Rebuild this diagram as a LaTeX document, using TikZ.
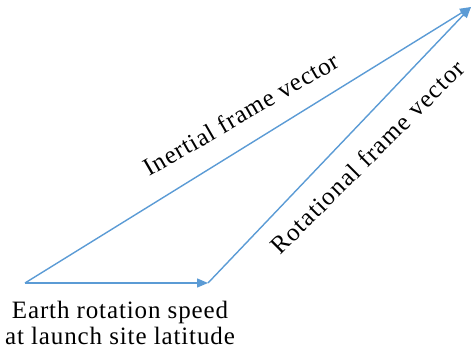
\documentclass[tikz,border=0pt]{standalone}
\usepackage{fontspec}
\setmainfont{Liberation Serif}
\usetikzlibrary{arrows.meta,positioning,calc}

\begin{document}
\begin{tikzpicture}[x=1pt,y=1pt,
    vec/.style={draw={rgb,255:red,91;green,155;blue,213},line width=1.4pt,
        -{Triangle[length=11pt,width=9pt]}},
    lbl/.style={font=\fontsize{25}{26}\selectfont\addfontfeature{LetterSpace=3.5},
        align=center,inner sep=0pt}]
    \useasboundingbox (0,0) rectangle (472,351);
    \coordinate (origin) at (25,68);
    \coordinate (earth) at (208,68);
    \coordinate (tip) at (471,344);
    \draw[vec] (origin) -- (earth);
    \draw[vec] (origin) -- (tip);
    \draw[vec] (earth) -- (tip);
    % labels
    \node[lbl] (speed) at (120,28) {Earth rotation speed\\at launch site latitude};
    \node[lbl,rotate=30] (inertial) at (241,237) {Inertial frame vector};
    \node[lbl,rotate=45,font=\fontsize{25}{26}\selectfont\addfontfeature{LetterSpace=5}]
        (rotational) at (367,194) {Rotational frame vector};
\end{tikzpicture}
\end{document}
